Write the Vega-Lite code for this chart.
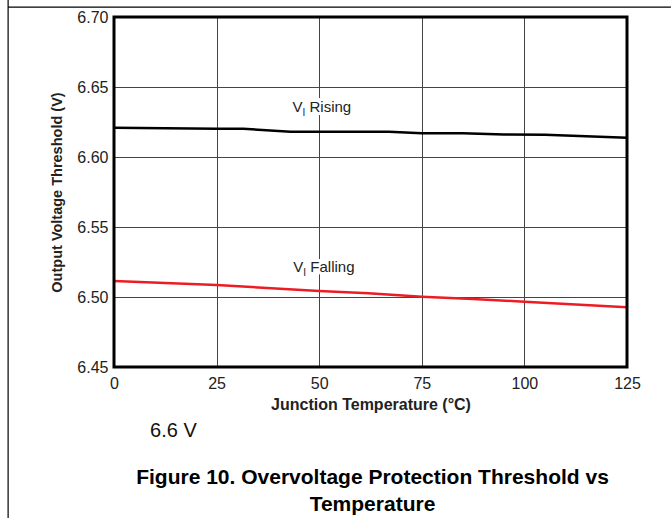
{
  "$schema": "https://vega.github.io/schema/vega-lite/v6.json",
  "width": 513,
  "height": 350,
  "autosize": {"type": "none"},
  "padding": {"left": 114, "top": 17, "right": 44, "bottom": 151},
  "background": "white",
  "config": {"view": {"stroke": null}, "font": "Liberation Sans"},
  "datasets": {
    "curves": [
      {"series": "Rising", "t": 0, "v": 6.6209},
      {"series": "Rising", "t": 25, "v": 6.6202},
      {"series": "Rising", "t": 31.5, "v": 6.6202},
      {"series": "Rising", "t": 43, "v": 6.6180},
      {"series": "Rising", "t": 50, "v": 6.6180},
      {"series": "Rising", "t": 67, "v": 6.6180},
      {"series": "Rising", "t": 75, "v": 6.6170},
      {"series": "Rising", "t": 85, "v": 6.6169},
      {"series": "Rising", "t": 95, "v": 6.6161},
      {"series": "Rising", "t": 105, "v": 6.6159},
      {"series": "Rising", "t": 125, "v": 6.6138},
      {"series": "Falling", "t": 0, "v": 6.5114},
      {"series": "Falling", "t": 25, "v": 6.5086},
      {"series": "Falling", "t": 50, "v": 6.5043},
      {"series": "Falling", "t": 62, "v": 6.5026},
      {"series": "Falling", "t": 75, "v": 6.5002},
      {"series": "Falling", "t": 87.5, "v": 6.4986},
      {"series": "Falling", "t": 100, "v": 6.4966},
      {"series": "Falling", "t": 125, "v": 6.4926}
    ],
    "labels": [
      {"name": "Rising", "t": 43.5, "v": 6.6324},
      {"name": "Falling", "t": 43.7, "v": 6.5181}
    ],
    "note": [{"t": 8.8, "v": 6.4002, "text": "6.6 V"}],
    "frameH": [{"t": -25.8, "t2": 135.7, "v": 6.7071}],
    "frameV": [{"t": -25.8, "v": 6.7121, "v2": 6.3421}],
    "box": [{"t": 0, "t2": 125, "v": 6.45, "v2": 6.70}]
  },
  "title": {
    "text": ["Figure 10. Overvoltage Protection Threshold vs", "Temperature"],
    "orient": "bottom",
    "anchor": "middle",
    "font": "Liberation Sans",
    "fontSize": 21,
    "fontWeight": "bold",
    "color": "black",
    "lineHeight": 27,
    "offset": -52,
    "dx": 2
  },
  "layer": [
    {
      "data": {"name": "curves"},
      "mark": {"type": "line", "strokeWidth": 2.5, "clip": true},
      "encoding": {
        "x": {
          "field": "t", "type": "quantitative",
          "scale": {"domain": [0, 125], "nice": false, "zero": false},
          "axis": {
            "values": [0, 25, 50, 75, 100, 125],
            "title": "Junction Temperature (°C)",
            "titleFont": "Liberation Sans", "titleFontSize": 16, "titleFontWeight": "bold", "titleColor": "#222",
            "titlePadding": 5,
            "labelFont": "Liberation Sans", "labelFontSize": 16, "labelColor": "#222",
            "labelPadding": 8, "labelFlush": false, "labelOverlap": false,
            "ticks": false, "domain": false,
            "grid": true, "gridColor": "#444", "gridWidth": 1
          }
        },
        "y": {
          "field": "v", "type": "quantitative",
          "scale": {"domain": [6.45, 6.70], "nice": false, "zero": false},
          "axis": {
            "values": [6.45, 6.5, 6.55, 6.6, 6.65, 6.7],
            "format": ".2f",
            "title": "Output Voltage Threshold (V)",
            "titleFont": "Liberation Sans", "titleFontSize": 14.5, "titleFontWeight": "bold", "titleColor": "#222",
            "titlePadding": 12,
            "labelFont": "Liberation Sans", "labelFontSize": 16, "labelColor": "#222",
            "labelPadding": 6, "labelFlush": false, "labelOverlap": false,
            "ticks": false, "domain": false,
            "grid": true, "gridColor": "#444", "gridWidth": 1
          }
        },
        "color": {
          "field": "series", "type": "nominal",
          "scale": {"domain": ["Rising", "Falling"], "range": ["#000000", "#ed1c24"]},
          "legend": null
        }
      }
    },
    {
      "data": {"name": "box"},
      "mark": {"type": "rect", "fill": null, "fillOpacity": 0, "stroke": "black", "strokeWidth": 3},
      "encoding": {
        "x": {"field": "t", "type": "quantitative"},
        "x2": {"field": "t2"},
        "y": {"field": "v", "type": "quantitative"},
        "y2": {"field": "v2"}
      }
    },
    {
      "data": {"name": "frameH"},
      "mark": {"type": "rule", "stroke": "black", "strokeWidth": 1.2},
      "encoding": {
        "x": {"field": "t", "type": "quantitative"},
        "x2": {"field": "t2"},
        "y": {"field": "v", "type": "quantitative"}
      }
    },
    {
      "data": {"name": "frameV"},
      "mark": {"type": "rule", "stroke": "black", "strokeWidth": 1.2},
      "encoding": {
        "x": {"field": "t", "type": "quantitative"},
        "y": {"field": "v", "type": "quantitative"},
        "y2": {"field": "v2"}
      }
    },
    {
      "data": {"name": "labels"},
      "mark": {"type": "text", "align": "left", "baseline": "alphabetic", "fontSize": 15, "dx": 17, "fill": "white", "stroke": "white", "strokeWidth": 6, "font": "Liberation Sans"},
      "encoding": {
        "x": {"field": "t", "type": "quantitative"},
        "y": {"field": "v", "type": "quantitative"},
        "text": {"field": "name"}
      }
    },
    {
      "data": {"name": "labels"},
      "mark": {"type": "text", "text": "V", "align": "left", "baseline": "alphabetic", "fontSize": 15, "color": "#222", "font": "Liberation Sans"},
      "encoding": {
        "x": {"field": "t", "type": "quantitative"},
        "y": {"field": "v", "type": "quantitative"}
      }
    },
    {
      "data": {"name": "labels"},
      "mark": {"type": "text", "text": "I", "align": "left", "baseline": "alphabetic", "fontSize": 10, "dx": 10, "dy": 4, "color": "#222", "font": "Liberation Sans"},
      "encoding": {
        "x": {"field": "t", "type": "quantitative"},
        "y": {"field": "v", "type": "quantitative"}
      }
    },
    {
      "data": {"name": "labels"},
      "mark": {"type": "text", "align": "left", "baseline": "alphabetic", "fontSize": 15, "dx": 17, "color": "#222", "font": "Liberation Sans"},
      "encoding": {
        "x": {"field": "t", "type": "quantitative"},
        "y": {"field": "v", "type": "quantitative"},
        "text": {"field": "name"}
      }
    },
    {
      "data": {"name": "note"},
      "mark": {"type": "text", "align": "left", "baseline": "alphabetic", "fontSize": 20, "color": "#111", "font": "Liberation Sans"},
      "encoding": {
        "x": {"field": "t", "type": "quantitative"},
        "y": {"field": "v", "type": "quantitative"},
        "text": {"field": "text"}
      }
    }
  ]
}
